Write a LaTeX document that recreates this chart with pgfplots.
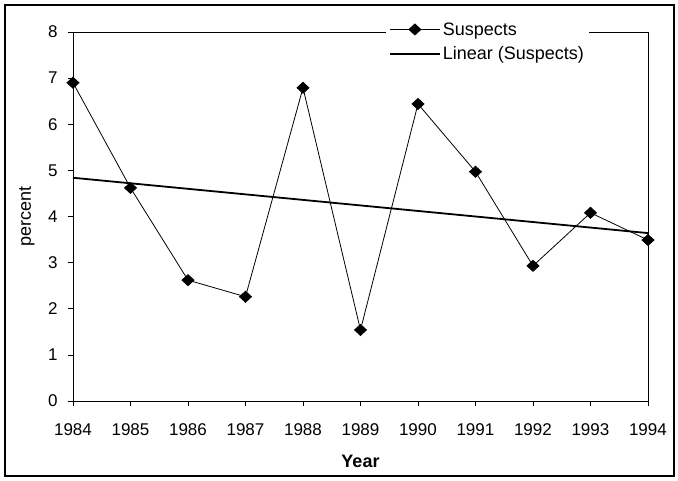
\documentclass[border=0pt]{standalone}
\usepackage{fontspec}
\setmainfont{Liberation Sans}
\usepackage{pgfplots}
\pgfplotsset{compat=1.18}
\begin{document}
\begin{tikzpicture}[x=1pt,y=1pt]
\path[use as bounding box] (0,0) rectangle (678,481);
\draw[line width=1.8pt] (5,5) rectangle (674,476);
\begin{axis}[
 at={(73pt,80pt)}, anchor=south west,
 scale only axis, width=575pt, height=369pt,
 xmin=1984, xmax=1994, ymin=0, ymax=8,
 xtick={1984,...,1994}, ytick={0,...,8},
 xtick pos=left, ytick pos=left,
 tick align=outside, major tick length=5pt,
 tick style={line width=0.6pt,black},
 axis line style={line width=0.8pt},
 /pgf/number format/assume math mode=true,
 /pgf/number format/1000 sep={},
 ticklabel style={font=\fontsize{17}{20}\selectfont},
 xticklabel shift=14pt, yticklabel shift=7pt,
 xlabel={\bfseries Year}, ylabel={percent},
 label style={font=\fontsize{18}{21}\selectfont},
 xlabel style={at={(axis description cs:0.5,-0.1626)}, anchor=center},
 ylabel style={at={(axis description cs:-0.08,0.5)}, anchor=center},
 legend style={at={(0.544,1.04)}, anchor=north west, draw=none, fill=white,
   font=\fontsize{18}{21}\selectfont, row sep=6pt, inner sep=3pt},
 legend cell align=left,
 legend image code/.code={\draw[mark repeat=2,mark phase=2,#1] plot coordinates {(0pt,0pt) (25pt,0pt) (50pt,0pt)};},
]
\addplot[black, line width=0.8pt, mark=diamond*, mark size=5.5pt, mark options={xscale=1.45,solid,fill=black}]
 coordinates {(1984,6.90)(1985,4.62)(1986,2.62)(1987,2.26)(1988,6.79)(1989,1.54)(1990,6.44)(1991,4.97)(1992,2.93)(1993,4.08)(1994,3.49)};
\addlegendentry{Suspects}
\addplot[black, line width=1.8pt] coordinates {(1984,4.84)(1994,3.64)};
\addlegendentry{Linear (Suspects)}
\end{axis}
\end{tikzpicture}
\end{document}
